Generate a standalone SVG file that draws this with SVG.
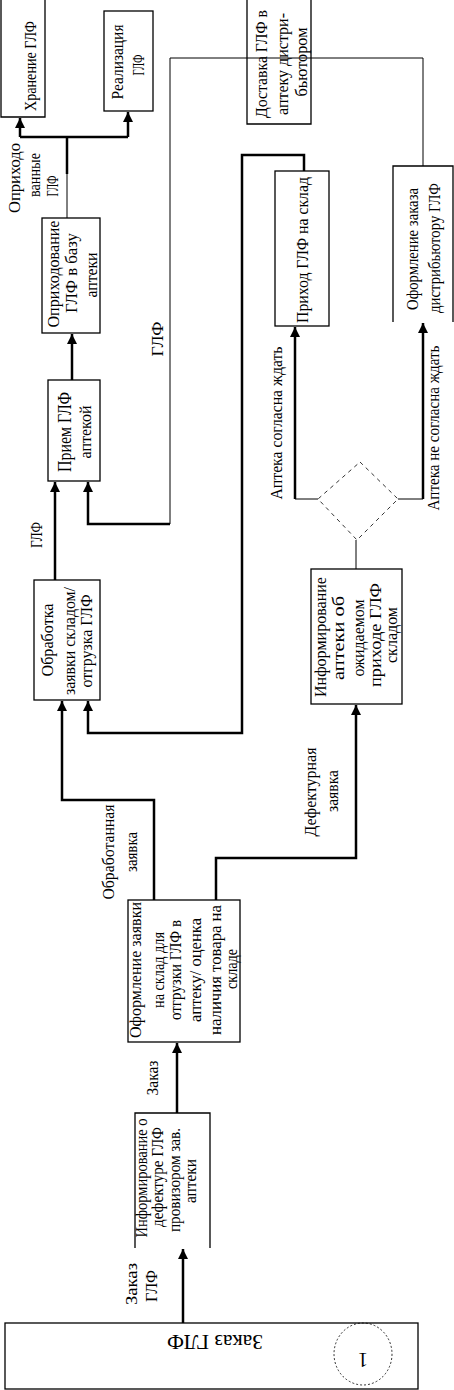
<svg xmlns="http://www.w3.org/2000/svg" width="454" height="1390" viewBox="0 0 454 1390">
<style>
.bx{fill:#fff;stroke:#000;stroke-width:1.3}
.op{fill:none;stroke:#000;stroke-width:1.3}
.dash{fill:none;stroke:#000;stroke-width:0.8;stroke-dasharray:4 4}
.thk{fill:none;stroke:#000;stroke-width:2.5}
.thn{fill:none;stroke:#000;stroke-width:1}
text{font-family:"Liberation Serif","Times New Roman",serif;font-size:17px;fill:#000;text-anchor:middle}
.big{font-size:19px}
.ttl{font-size:20px}
</style>
<defs>
<marker id="ah" markerUnits="userSpaceOnUse" markerWidth="10" markerHeight="11" refX="10" refY="5" orient="auto">
<path d="M0,0 L10,5 L0,10 Z" fill="#000"/>
</marker>
</defs>

<g id="connectors">
<path class="thn" d="M67,218 V174"/>
<path class="thk" d="M67,174 V137"/>
<path class="thk" d="M20,137 H128"/>
<path class="thk" d="M20,137 V118" marker-end="url(#ah)"/>
<path class="thk" d="M128,137 V112" marker-end="url(#ah)"/>
<path class="thk" d="M72,380 V334" marker-end="url(#ah)"/>
<path class="thk" d="M55,580 V482" marker-end="url(#ah)"/>
<path class="thn" d="M423,166 V58 H170 V524"/>
<path class="thk" d="M170,524 H88 V482" marker-end="url(#ah)"/>
<path class="thk" d="M304,171 V155 H242 V733 H88 V701" marker-end="url(#ah)"/>
<path class="thk" d="M154,900 V800 H62 V701" marker-end="url(#ah)"/>
<path class="thk" d="M216,900 V858 H356 V705" marker-end="url(#ah)"/>
<path class="thn" d="M356,569 V540"/>
<path class="thn" d="M318,499 H295"/>
<path class="thk" d="M295,499 V327" marker-end="url(#ah)"/>
<path class="thn" d="M398,499 H423"/>
<path class="thk" d="M423,499 V323" marker-end="url(#ah)"/>
<path class="thk" d="M177,1113 V1043" marker-end="url(#ah)"/>
<path class="thk" d="M183,1323 V1249" marker-end="url(#ah)"/>
</g>

<g id="labels">
<text transform="translate(20,178) rotate(-90)" textLength="70" lengthAdjust="spacingAndGlyphs">Оприходо</text>
<text transform="translate(40,175) rotate(-90)" textLength="44" lengthAdjust="spacingAndGlyphs">ванные</text>
<text transform="translate(58,186) rotate(-90)" textLength="21" lengthAdjust="spacingAndGlyphs">ГЛФ</text>
<text transform="translate(163,339) rotate(-90)" textLength="35" lengthAdjust="spacingAndGlyphs">ГЛФ</text>
<text transform="translate(42,535) rotate(-90)" textLength="26" lengthAdjust="spacingAndGlyphs">ГЛФ</text>
<text transform="translate(114,852) rotate(-90)" textLength="95" lengthAdjust="spacingAndGlyphs">Обработанная</text>
<text transform="translate(137,852) rotate(-90)" textLength="40" lengthAdjust="spacingAndGlyphs">заявка</text>
<text transform="translate(316,792) rotate(-90)" textLength="89" lengthAdjust="spacingAndGlyphs">Дефектурная</text>
<text transform="translate(338,791) rotate(-90)" textLength="42" lengthAdjust="spacingAndGlyphs">заявка</text>
<text transform="translate(158,1078) rotate(-90)" textLength="35" lengthAdjust="spacingAndGlyphs">Заказ</text>
<text transform="translate(137,1284) rotate(-90)" textLength="42" lengthAdjust="spacingAndGlyphs">Заказ</text>
<text transform="translate(157,1286) rotate(-90)" textLength="32" lengthAdjust="spacingAndGlyphs">ГЛФ</text>
<text transform="translate(282,423) rotate(-90)" textLength="153" lengthAdjust="spacingAndGlyphs">Аптека согласна ждать</text>
<text transform="translate(439,428) rotate(-90)" textLength="165" lengthAdjust="spacingAndGlyphs">Аптека не согласна ждать</text>
</g>

<g id="n-hranenie">
<path class="op" d="M1,0 V117 H45 V0"/>
<text transform="translate(36,66) rotate(-90)" textLength="90" lengthAdjust="spacingAndGlyphs">Хранение ГЛФ</text>
</g>

<g id="n-realizaciya">
<rect class="bx" x="104" y="11" width="49" height="100"/>
<text transform="translate(123,62) rotate(-90)" textLength="75" lengthAdjust="spacingAndGlyphs">Реализация</text>
<text transform="translate(144,65) rotate(-90)" textLength="21" lengthAdjust="spacingAndGlyphs">ГЛФ</text>
</g>

<g id="n-dostavka">
<path class="op" d="M247,0 V124 H311 V0"/>
<text transform="translate(267,64) rotate(-90)" textLength="108" lengthAdjust="spacingAndGlyphs">Доставка ГЛФ в</text>
<text transform="translate(288,64) rotate(-90)" textLength="102" lengthAdjust="spacingAndGlyphs">аптеку дистри-</text>
<text transform="translate(307,62) rotate(-90)" textLength="69" lengthAdjust="spacingAndGlyphs">бьютором</text>
</g>

<g id="n-oprihodovanie">
<rect class="bx" x="42" y="218" width="58" height="115"/>
<text transform="translate(59,274) rotate(-90)" textLength="107" lengthAdjust="spacingAndGlyphs">Оприходование</text>
<text transform="translate(77,273) rotate(-90)" textLength="80" lengthAdjust="spacingAndGlyphs">ГЛФ в базу</text>
<text transform="translate(97,275) rotate(-90)" textLength="45" lengthAdjust="spacingAndGlyphs">аптеки</text>
</g>

<g id="n-priem">
<rect class="bx" x="48" y="380" width="52" height="101"/>
<text class="big" transform="translate(71,432) rotate(-90)" textLength="80" lengthAdjust="spacingAndGlyphs">Прием ГЛФ</text>
<text transform="translate(91,432) rotate(-90)" textLength="53" lengthAdjust="spacingAndGlyphs">аптекой</text>
</g>

<g id="n-obrabotka">
<rect class="bx" x="34" y="580" width="66" height="120"/>
<text transform="translate(53,640) rotate(-90)" textLength="73" lengthAdjust="spacingAndGlyphs">Обработка</text>
<text transform="translate(75,641) rotate(-90)" textLength="108" lengthAdjust="spacingAndGlyphs">заявки складом/</text>
<text transform="translate(92,641) rotate(-90)" textLength="93" lengthAdjust="spacingAndGlyphs">отгрузка ГЛФ</text>
</g>

<g id="n-prihod">
<rect class="bx" x="275" y="171" width="54" height="155"/>
<text transform="translate(308,250) rotate(-90)" textLength="146" lengthAdjust="spacingAndGlyphs">Приход ГЛФ на склад</text>
</g>

<g id="n-oformlenie-distr">
<path class="op" d="M393,322 V166 H453 V322"/>
<text transform="translate(418,249) rotate(-90)" textLength="122" lengthAdjust="spacingAndGlyphs">Оформление заказа</text>
<text transform="translate(440,248) rotate(-90)" textLength="130" lengthAdjust="spacingAndGlyphs">дистрибьютору ГЛФ</text>
</g>

<g id="n-decision">
<path class="dash" d="M360,462 L398,499 L357,540 L318,499 Z"/>
</g>

<g id="n-inform-ozhid">
<rect class="bx" x="311" y="569" width="91" height="135"/>
<text transform="translate(326,637) rotate(-90)" textLength="120" lengthAdjust="spacingAndGlyphs">Информирование</text>
<text transform="translate(344,638) rotate(-90)" textLength="84" lengthAdjust="spacingAndGlyphs">аптеки  об</text>
<text transform="translate(364,638) rotate(-90)" textLength="77" lengthAdjust="spacingAndGlyphs">ожидаемом</text>
<text transform="translate(381,635) rotate(-90)" textLength="104" lengthAdjust="spacingAndGlyphs">приходе ГЛФ</text>
<text transform="translate(397,635) rotate(-90)" textLength="56" lengthAdjust="spacingAndGlyphs">складом</text>
</g>

<g id="n-oformlenie-zayavki">
<rect class="bx" x="128" y="900" width="112" height="142"/>
<text transform="translate(141,970) rotate(-90)" textLength="136" lengthAdjust="spacingAndGlyphs">Оформление заявки</text>
<text transform="translate(164,970) rotate(-90)" textLength="76" lengthAdjust="spacingAndGlyphs">на склад для</text>
<text transform="translate(181,970) rotate(-90)" textLength="100" lengthAdjust="spacingAndGlyphs">отгрузки ГЛФ в</text>
<text transform="translate(201,970) rotate(-90)" textLength="104" lengthAdjust="spacingAndGlyphs">аптеку/ оценка</text>
<text transform="translate(221,970) rotate(-90)" textLength="130" lengthAdjust="spacingAndGlyphs">наличия товара на</text>
<text transform="translate(237,969) rotate(-90)" textLength="40" lengthAdjust="spacingAndGlyphs">складе</text>
</g>

<g id="n-inform-defektura">
<path class="op" d="M135,1248 V1113 H210 V1248"/>
<text transform="translate(147,1178) rotate(-90)" textLength="119" lengthAdjust="spacingAndGlyphs">Информирование о</text>
<text transform="translate(163,1177) rotate(-90)" textLength="100" lengthAdjust="spacingAndGlyphs">дефектуре ГЛФ</text>
<text transform="translate(180,1180) rotate(-90)" textLength="104" lengthAdjust="spacingAndGlyphs">провизором зав.</text>
<text transform="translate(196,1181) rotate(-90)" textLength="44" lengthAdjust="spacingAndGlyphs">аптеки</text>
</g>

<g id="n-zakaz">
<rect class="bx" x="5" y="1323" width="413" height="66"/>
<text class="ttl" transform="translate(215,1335) rotate(180)" textLength="96" lengthAdjust="spacingAndGlyphs">Заказ ГЛФ</text>
<ellipse class="dash" cx="363" cy="1354" rx="29" ry="31" style="stroke-dasharray:2 2"/>
<text class="ttl" transform="translate(363,1353) rotate(180)">1</text>
</g>
</svg>
